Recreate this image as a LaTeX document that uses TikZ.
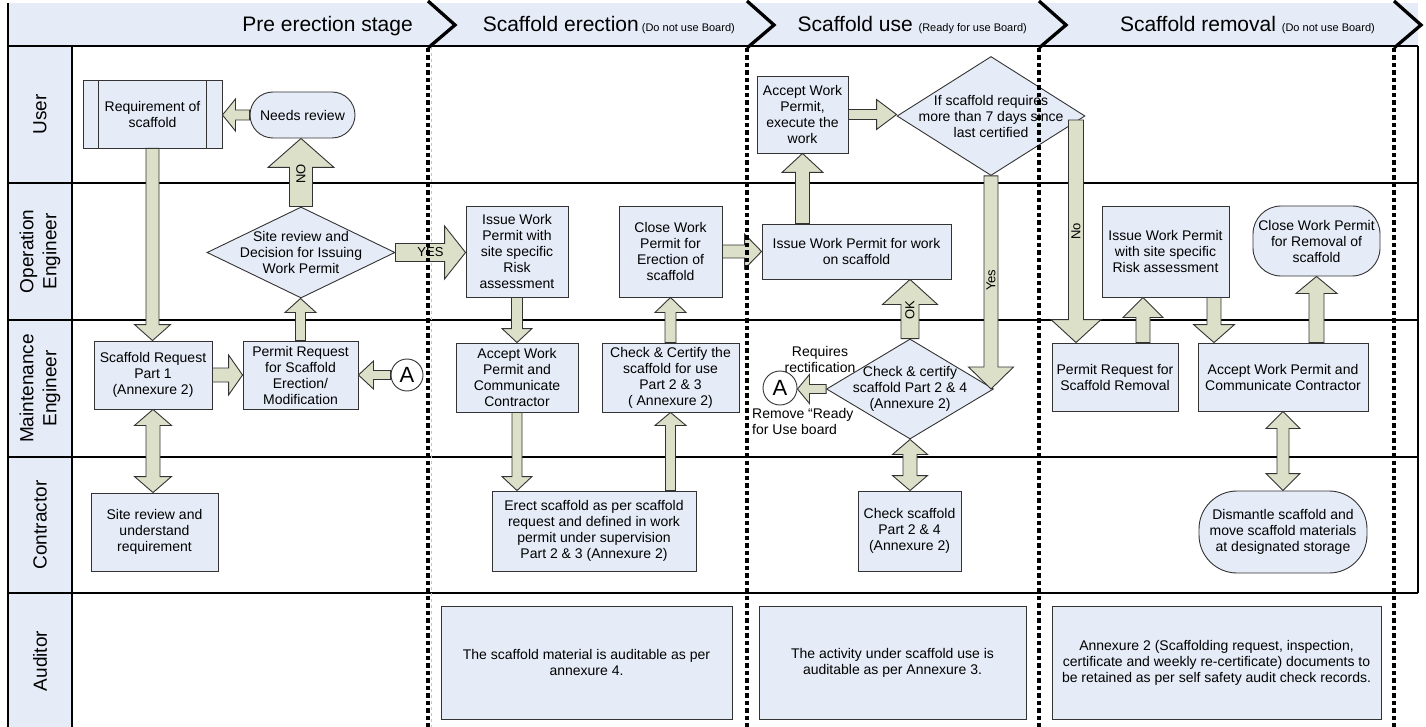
\documentclass[tikz,border=0pt]{standalone}
\usepackage{fontspec}
\setmainfont{Liberation Sans}
\usetikzlibrary{calc,shapes.geometric}
\definecolor{boxfill}{HTML}{E6ECF7}
\definecolor{arrfill}{HTML}{DCE0C8}
\definecolor{edge}{HTML}{333333}
\tikzset{
  sz/.style 2 args={minimum width=#1pt,minimum height=#2pt},
  box/.style={draw=edge, fill=boxfill, line width=0.9pt, inner sep=0pt, align=center, font=\fontsize{14}{16}\selectfont},
  term/.style={box, rounded corners=#1pt},
  dia/.style={shape=diamond, draw=edge, fill=boxfill, line width=0.9pt, inner sep=0pt},
  dtext/.style={align=center, inner sep=0pt, font=\fontsize{14}{16}\selectfont},
  circ/.style={circle, draw=edge, fill=white, line width=0.9pt, minimum size=#1pt, inner sep=0pt, font=\fontsize{22}{24}\selectfont},
  lbl/.style={inner sep=0pt, font=\fontsize{13}{15}\selectfont},
  note/.style={inner sep=0pt, font=\fontsize{14}{16}\selectfont},
  lane/.style={rotate=90, align=center, inner sep=0pt, font=\fontsize{19}{23}\selectfont},
  arrsty/.style={draw=edge, fill=arrfill, line width=0.9pt, line join=miter},
  sep/.style={line width=3.4pt, dash pattern=on 4.5pt off 3pt, black},
  chev/.style={line width=3.3pt, black, line join=miter},
  grid/.style={line width=1.4pt, black}
}
\newcommand\barr[6][]{%
  \coordinate (bas) at (#2);
  \coordinate (bae) at (#3);
  \coordinate (bab) at ($(bae)!#6pt!(bas)$);
  \draw[arrsty,#1] ($(bas)!#4pt!90:(bae)$) -- ($(bab)!#4pt!90:(bae)$) -- ($(bab)!#5pt!90:(bae)$) -- (bae) -- ($(bab)!#5pt!-90:(bae)$) -- ($(bab)!#4pt!-90:(bae)$) -- ($(bas)!#4pt!-90:(bae)$) -- cycle;}
\newcommand\dbarr[6][]{%
  \coordinate (bas) at (#2);
  \coordinate (bae) at (#3);
  \coordinate (bb1) at ($(bas)!#6pt!(bae)$);
  \coordinate (bb2) at ($(bae)!#6pt!(bas)$);
  \draw[arrsty,#1] (bas) -- ($(bb1)!#5pt!90:(bae)$) -- ($(bb1)!#4pt!90:(bae)$) -- ($(bb2)!#4pt!90:(bae)$) -- ($(bb2)!#5pt!90:(bae)$) -- (bae) -- ($(bb2)!#5pt!-90:(bae)$) -- ($(bb2)!#4pt!-90:(bae)$) -- ($(bb1)!#4pt!-90:(bae)$) -- ($(bb1)!#5pt!-90:(bae)$) -- cycle;}
\begin{document}
\begin{tikzpicture}[x=1pt,y=-1pt]
\useasboundingbox (0,0) rectangle (1426,727);
% header and lane column
\fill[boxfill] (8,3) rectangle (1418,46);
\fill[boxfill] (8,46) rectangle (72,727);
\draw[grid] (8,3) -- (8,727);
\draw[grid] (72,46) -- (72,727);
\draw[grid] (1418,46) -- (1418,593);
\foreach \yy in {46,183,320,457,593} \draw[grid] (8,\yy) -- (1418,\yy);
\draw[gray!45, dashed, line width=0.8pt] (431,47) -- (431,727);
% header texts
\node[anchor=base east, inner sep=0pt, font=\fontsize{21}{25}\selectfont] (h1) at (413,32) {Pre erection stage};
\node[anchor=base east, inner sep=0pt] (h2) at (735,32) {\fontsize{21}{25}\selectfont Scaffold erection\fontsize{11}{13}\selectfont\ (Do not use Board)};
\node[anchor=base east, inner sep=0pt] (h3) at (1027,32) {\fontsize{21}{25}\selectfont Scaffold use \fontsize{11}{13}\selectfont(Ready for use Board)};
\node[anchor=base east, inner sep=0pt] (h4) at (1375,32) {\fontsize{21}{25}\selectfont Scaffold removal \fontsize{11}{13}\selectfont(Do not use Board)};
% lane labels
\node[lane] (lu) at (40,114.5) {User};
\node[lane] (lo) at (40,251.5) {Operation\\Engineer};
\node[lane] (lm) at (40,388.5) {Maintenance\\Engineer};
\node[lane] (lc) at (40,525) {Contractor};
\node[lane] (la) at (40,661) {Auditor};
% User lane
\node[box, sz={139}{68}] (req) at (152.5,114) {Requirement of\\scaffold};
\draw[draw=edge, line width=0.9pt] ([xshift=16pt]req.north west) -- ([xshift=16pt]req.south west)
  ([xshift=-16pt]req.north east) -- ([xshift=-16pt]req.south east);
\node[term=23, sz={105}{46}] (needs) at (302.5,115) {Needs review};
\node[box, sz={91}{77}] (acc) at (802.5,114.5) {Accept Work\\Permit,\\execute the\\work};
\node[dia, sz={188}{119}] (ifd) at (991,116) {};
\node[dtext] (ifdt) at (ifd) {If scaffold requires\\more than 7 days since\\last certified};
% Operation lane
\node[dia, sz={188}{91}] (dec) at (301,252.5) {};
\node[dtext] (dect) at (dec) {Site review and\\Decision for Issuing\\Work Permit};
\node[box, sz={102}{91}] (iwp1) at (517,251.5) {Issue Work\\Permit with\\site specific\\Risk\\assessment};
\node[box, sz={103}{91}] (cwp) at (670.5,251.5) {Close Work\\Permit for\\Erection of\\scaffold};
\node[box, sz={189}{55}] (iwpw) at (856.5,251.5) {Issue Work Permit for work\\on scaffold};
\node[box, sz={127}{91}] (iwp2) at (1165.5,251.5) {Issue Work Permit\\with site specific\\Risk assessment};
\node[term=28, sz={127}{70}] (cwpr) at (1316.5,241) {Close Work Permit\\for Removal of\\scaffold};
% Maintenance lane
\node[box, sz={118}{68}] (sreq) at (153,375) {Scaffold Request\\Part 1\\(Annexure 2)};
\node[box, sz={115}{68}] (preq) at (300.5,375) {Permit Request\\for Scaffold\\Erection/\\Modification};
\node[circ=32] (a1) at (407,375) {A};
\node[box, sz={122}{69}] (awp1) at (517,377.5) {Accept Work\\Permit and\\Communicate\\Contractor};
\node[box, sz={137}{69}] (ccs) at (670.5,377.5) {Check \& Certify the\\scaffold for use\\Part 2 \& 3\\( Annexure 2)};
\node[dia, sz={167}{100}] (ccd) at (910,389) {};
\node[dtext] (ccdt) at (ccd) {Check \& certify\\scaffold Part 2 \& 4\\(Annexure 2)};
\node[circ=34] (a2) at (780,388) {A};
\node[note, align=center] (rr) at (820,359) {Requires\\rectification};
\node[note, align=left, anchor=west] (rm) at (752,421) {Remove “Ready\\for Use board};
\node[box, sz={126}{68}] (prr) at (1115,377) {Permit Request for\\Scaffold Removal};
\node[box, sz={170}{68}] (awp2) at (1283,377) {Accept Work Permit and\\Communicate Contractor};
% Contractor lane
\node[box, sz={127}{78}] (site) at (154.5,532) {Site review and\\understand\\requirement};
\node[box, sz={204}{80}] (erect) at (594,531) {Erect scaffold as per scaffold\\request and defined in work\\permit under supervision\\Part 2 \& 3 (Annexure 2)};
\node[box, sz={103}{80}] (chk) at (909.5,531) {Check scaffold\\Part 2 \& 4\\(Annexure 2)};
\node[term=38, sz={168}{82}] (dism) at (1283,532) {Dismantle scaffold and\\move scaffold materials\\at designated storage};
% Auditor lane
\node[box, sz={291}{113}] (au1) at (586.5,662.5) {The scaffold material is auditable as per\\annexure 4.};
\node[box, sz={267}{113}] (au2) at (892.5,662.5) {The activity under scaffold use is\\auditable as per Annexure 3.};
\node[box, sz={329}{113}] (au3) at (1216.5,662.5) {Annexure 2 (Scaffolding request, inspection,\\certificate and weekly re-certificate) documents to\\be retained as per self safety audit check records.};
% block arrows
\barr{needs.west}{needs.west -| req.east}{5}{16}{13}
\barr{dec.north}{dec.north |- needs.south}{11.5}{33}{29}
\barr{req.south}{req.south |- sreq.north}{6.5}{18}{16}
\barr{sreq.east}{sreq.east -| preq.west}{7}{20}{14}
\barr{preq.north}{preq.north |- dec.south}{5}{15.5}{14}
\barr{a1.west}{a1.west -| preq.east}{4.5}{14}{15}
\dbarr{sreq.south}{sreq.south |- site.north}{7}{18.5}{16}
\barr{dec.east}{dec.east -| iwp1.west}{9}{26.5}{21}
\barr{iwp1.south}{iwp1.south |- awp1.north}{5.5}{15}{14}
\barr{awp1.south}{awp1.south |- erect.north}{5}{15}{14}
\barr{erect.north -| ccs.south}{ccs.south}{5}{15.5}{13}
\barr{ccs.north}{ccs.north |- cwp.south}{5.5}{15.5}{15}
\barr{cwp.east}{cwp.east -| iwpw.west}{6.5}{17.5}{17}
\barr{iwpw.north -| acc.south}{acc.south}{7}{20.5}{19}
\barr{acc.east}{acc.east -| ifd.west}{5}{15}{20}
\barr{ifd.south}{ifd.south |- ccd.east}{7}{22.5}{22}
\coordinate (nos) at (1076,120);
\barr{nos}{nos |- prr.north}{7.5}{25}{23}
\barr{ccd.north}{ccd.north |- iwpw.south}{9}{27.5}{25}
\barr{ccd.west}{ccd.west -| a2.east}{4.5}{14.5}{12}
\dbarr{ccd.south}{ccd.south |- chk.north}{7}{17.5}{15}
\coordinate (p1) at ([xshift=28pt]prr.north);
\barr{p1}{p1 |- iwp2.south}{7}{20}{20}
\coordinate (p2) at ([xshift=48.5pt]iwp2.south);
\barr{p2}{p2 |- awp2.north}{7}{20.5}{18}
\barr{cwpr.south |- awp2.north}{cwpr.south}{7.5}{20.5}{17}
\dbarr{awp2.south}{awp2.south |- dism.north}{6}{17}{17}
% arrow labels
\node[lbl, rotate=90] (lno) at ($(dec.north)!0.48!(dec.north |- needs.south)$) {NO};
\node[lbl] (lyes) at ($(dec.east)!0.5!(dec.east -| iwp1.west)$) {YES};
\node[lbl, rotate=90] (lok) at ($(ccd.north)!0.48!(ccd.north |- iwpw.south)$) {OK};
\node[lbl, rotate=90] (lyes2) at ($(ifd.south)!0.49!(ifd.south |- ccd.east)$) {Yes};
\node[lbl, rotate=90] (lno2) at ($(nos)!0.5!(nos |- prr.north)$) {No};
% phase separators and chevrons
\foreach \xx in {428,747,1039,1394} {
  \draw[sep] (\xx,48) -- (\xx,727);
  \draw[chev] (\xx,1) -- (\xx+27,25) -- (\xx,48);
}
\end{tikzpicture}
\end{document}
